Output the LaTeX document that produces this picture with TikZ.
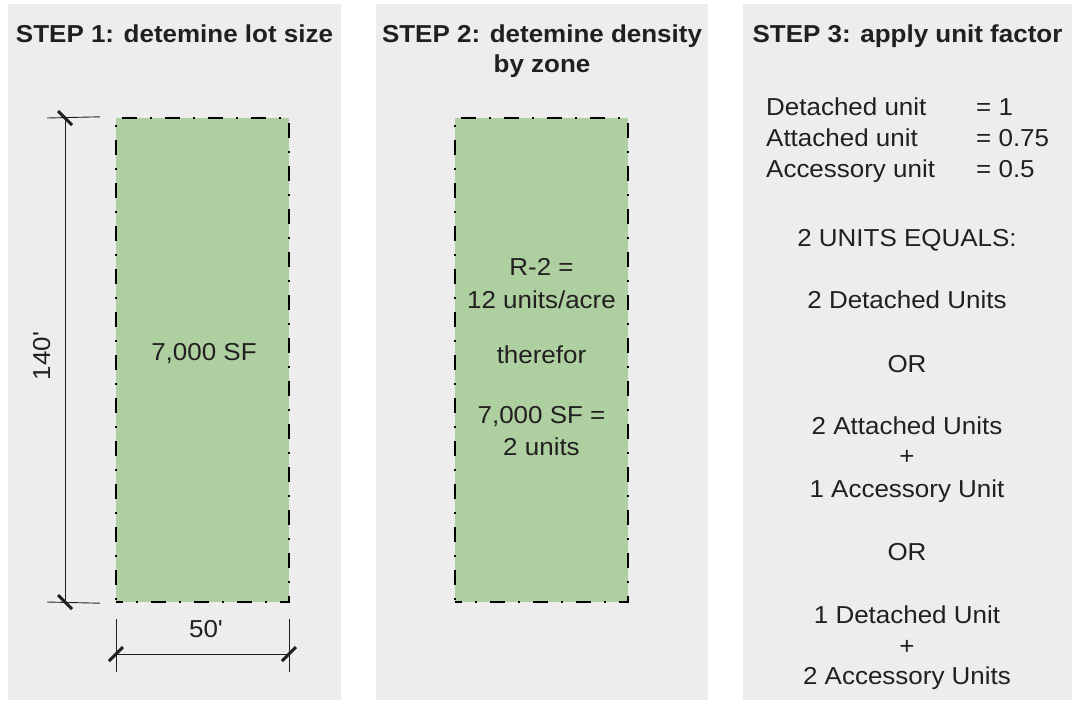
\documentclass[tikz,border=0pt]{standalone}
\usepackage{fontspec}
\setmainfont{Liberation Sans}[Ligatures=TeXOff, FakeStretch=1.06]
\usetikzlibrary{positioning}

\definecolor{panelgray}{RGB}{237,237,237}
\definecolor{lotgreen}{RGB}{174,208,160}
\definecolor{inkgray}{RGB}{35,31,32}

\begin{document}
\begin{tikzpicture}[x=1pt, y=-1pt,
		panel/.style={fill=panelgray, draw=none},
		lot/.style={rectangle, fill=lotgreen, draw=black, line width=2.4pt,
			dash pattern=on 15pt off 13pt on 2pt off 13pt, dash phase=8pt,
			minimum width=173pt, minimum height=484pt, inner sep=0pt},
		title/.style={font=\fontsize{24.5}{31}\selectfont\bfseries, text=inkgray, anchor=base, inner sep=0pt},
		txt/.style={font=\fontsize{24.5}{31}\selectfont, text=inkgray, anchor=base, inner sep=0pt},
		dimline/.style={draw=inkgray, line width=0.9pt},
		tickmark/.style={draw=inkgray, line width=3pt}]
		\useasboundingbox (0,0) rectangle (1072,702);
		
		% panels
		\path[panel] (8,4) rectangle (341,700);
		\path[panel] (376,4) rectangle (708,700);
		\path[panel] (743,4) rectangle (1072,700);
		
		\node[title] (titleA) at (174.5,42) {STEP 1: detemine lot size};
		\node[title] (titleB) at (542,42) {STEP 2: detemine density};
		\node[title] (titleB2) at (542,72) {by zone};
		\node[title] (titleC) at (907.5,42) {STEP 3: apply unit factor};
		
		% step 1
		\node[lot] (lotA) at (202.5,360) {};
		\node[txt] (areaA) at (204,360) {7,000 SF};
		
		\coordinate (extT) at (47,118);
		\coordinate (extB) at (47,602);
		\coordinate (dimT) at (65,118);
		\coordinate (dimB) at (65,602);
		\path[dimline] (extT) edge (lotA.north west -| 100,0);
		\path[dimline] (extB) edge (lotA.south west -| 100,0);
		\path[dimline] (dimT) edge (dimB);
		\draw[tickmark] (dimT) ++(-7,-7) -- ++(14,14);
		\draw[tickmark] (dimB) ++(-7,-7) -- ++(14,14);
		\node[txt, rotate=90] (depthA) at (50,356) {140'};
		
		\coordinate (extL) at (116,619);
		\coordinate (extR) at (289,619);
		\coordinate (dimL) at (116,654);
		\coordinate (dimR) at (289,654);
		\path[dimline] (extL) edge ++(0,53);
		\path[dimline] (extR) edge ++(0,53);
		\path[dimline] (dimL) edge (dimR);
		\draw[tickmark] (dimL) ++(-7,7) -- ++(14,-14);
		\draw[tickmark] (dimR) ++(-7,7) -- ++(14,-14);
		\node[txt] (widthA) at (206,637) {50'};
		
		% step 2
		\node[lot] (lotB) at (541.5,360) {};
		\node[txt] (zoneB) at (541.5,275) {R-2 =};
		\node[txt] (rateB) at (541.5,308) {12 units/acre};
		\node[txt] (thusB) at (541.5,363) {therefor};
		\node[txt] (areaB) at (541.5,423) {7,000 SF =};
		\node[txt] (unitsB) at (541.5,455) {2 units};
		
		% step 3
		\node[txt, anchor=base west] (detC) at (766,115) {Detached unit};
		\node[txt, anchor=base west] (attC) at (766,146) {Attached unit};
		\node[txt, anchor=base west] (accC) at (766,177) {Accessory unit};
		\node[txt, anchor=base west] (detV) at (976,115) {= 1};
		\node[txt, anchor=base west] (attV) at (976,146) {= 0.75};
		\node[txt, anchor=base west] (accV) at (976,177) {= 0.5};
		
		\node[txt] (eqC) at (907,246) {2 UNITS EQUALS:};
		\node[txt] (optA) at (907,308) {2 Detached Units};
		\node[txt] (orA) at (907,372) {OR};
		\node[txt] (optB1) at (907,434) {2 Attached Units};
		\node[txt] (plusB) at (907,464) {+};
		\node[txt] (optB2) at (907,497) {1 Accessory Unit};
		\node[txt] (orB) at (907,560) {OR};
		\node[txt] (optC1) at (907,623) {1 Detached Unit};
		\node[txt] (plusC) at (907,654) {+};
		\node[txt] (optC2) at (907,684) {2 Accessory Units};
		
	\end{tikzpicture}
\end{document}
